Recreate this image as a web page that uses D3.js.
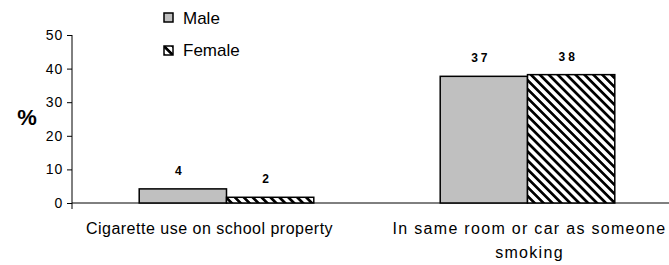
<!DOCTYPE html>
<html>
<head>
  <script src="https://d3js.org/d3.v7.min.js"></script>
  <style>
    body { margin: 0; background: #fff; }
    text { font-family: Arial, "Liberation Sans", sans-serif; fill: #000; }
  </style>
</head>
<body>
  <svg id="chart"></svg>
  <script>
    const categories = ["Cigarette use on school property", "In same room or car as someone smoking"]
    const categoryLines = [["Cigarette use on school property"], ["In same room or car as someone", "smoking"]]
    const series = ["Male", "Female"]
    const maleValues = [4.2, 37.7]
    const femaleValues = [1.7, 38.2]
    const maleLabels = ["4", "37"]
    const femaleLabels = ["2", "38"]
    const yTicks = [0, 10, 20, 30, 40, 50]

    const svgwidth = 669, svgheight = 265
    const svg = d3.select("#chart").attr("width", svgwidth).attr("height", svgheight)

    const defs = svg.append("defs")
    const pat = defs.append("pattern")
      .attr("id", "hatch")
      .attr("patternUnits", "userSpaceOnUse")
      .attr("width", 6.3).attr("height", 6.3)
      .attr("patternTransform", "rotate(-45)")
    pat.append("rect").attr("width", 6.3).attr("height", 6.3).attr("fill", "#fff")
    pat.append("rect").attr("x", 0).attr("width", 2.7).attr("height", 6.3).attr("fill", "#000")

    const y = d3.scaleLinear().domain([0, 50]).range([203, 35])
    const x = d3.scaleBand().domain(categories).range([76, 678])
      .paddingInner(0.42).paddingOuter(0.21)
    const xs = d3.scaleBand().domain(series).range([0, x.bandwidth()])

    // y axis
    const yAxis = svg.append("g").attr("transform", "translate(72,0)")
      .call(d3.axisLeft(y).tickValues(yTicks).tickSize(5).tickPadding(4))
    yAxis.select(".domain").remove()
    yAxis.selectAll("line").attr("stroke", "#000")
    yAxis.selectAll("text").attr("font-size", 14).attr("letter-spacing", 0.8)
      .attr("font-family", "Arial, 'Liberation Sans', sans-serif")
    svg.append("line").attr("x1", 72).attr("x2", 72).attr("y1", y(50)).attr("y2", y(0) + 6)
      .attr("stroke", "#000")
    svg.append("line").attr("x1", 72).attr("x2", svgwidth).attr("y1", y(0)).attr("y2", y(0))
      .attr("stroke", "#000")

    svg.append("text").attr("x", 27).attr("y", 125).attr("text-anchor", "middle")
      .attr("font-size", 22).attr("font-weight", "bold").text("%")

    const data = []
    categories.forEach((c, i) => {
      data.push({ cat: c, s: "Male", v: maleValues[i], label: maleLabels[i] })
      data.push({ cat: c, s: "Female", v: femaleValues[i], label: femaleLabels[i] })
    })

    svg.selectAll(".bar").data(data).enter().append("rect")
      .attr("class", "bar")
      .attr("x", d => x(d.cat) + xs(d.s))
      .attr("y", d => y(d.v))
      .attr("width", xs.bandwidth())
      .attr("height", d => y(0) - y(d.v))
      .attr("fill", d => d.s === "Male" ? "#c0c0c0" : "url(#hatch)")
      .attr("stroke", "#000").attr("stroke-width", 1.5)

    svg.selectAll(".val").data(data).enter().append("text")
      .attr("x", d => x(d.cat) + xs(d.s) + xs.bandwidth() / 2 - 3)
      .attr("y", d => y(d.v) - 14)
      .attr("text-anchor", "middle")
      .attr("font-size", 12).attr("font-weight", "bold").attr("letter-spacing", 3)
      .text(d => d.label)

    // category labels (Excel spreads the second one wider)
    const spacing = [0.5, 1.3]
    categories.forEach((c, i) => {
      const t = svg.append("text").attr("text-anchor", "middle")
        .attr("font-size", 16).attr("letter-spacing", spacing[i])
      categoryLines[i].forEach((line, j) => {
        t.append("tspan").attr("x", x(c) + x.bandwidth() / 2 + (i === 0 ? -17 : 2))
          .attr("y", 234 + j * 24).text(line)
      })
    })

    // legend
    const legend = svg.append("g")
    series.forEach((s, i) => {
      legend.append("rect").attr("x", 164).attr("y", 13 + i * 33).attr("width", 9).attr("height", 9)
        .attr("fill", s === "Male" ? "#c0c0c0" : "url(#hatch)")
        .attr("stroke", "#000").attr("stroke-width", 1.5)
      legend.append("text").attr("x", 183).attr("y", 24 + i * 32)
        .attr("font-size", 17).text(s)
    })
  </script>
</body>
</html>
